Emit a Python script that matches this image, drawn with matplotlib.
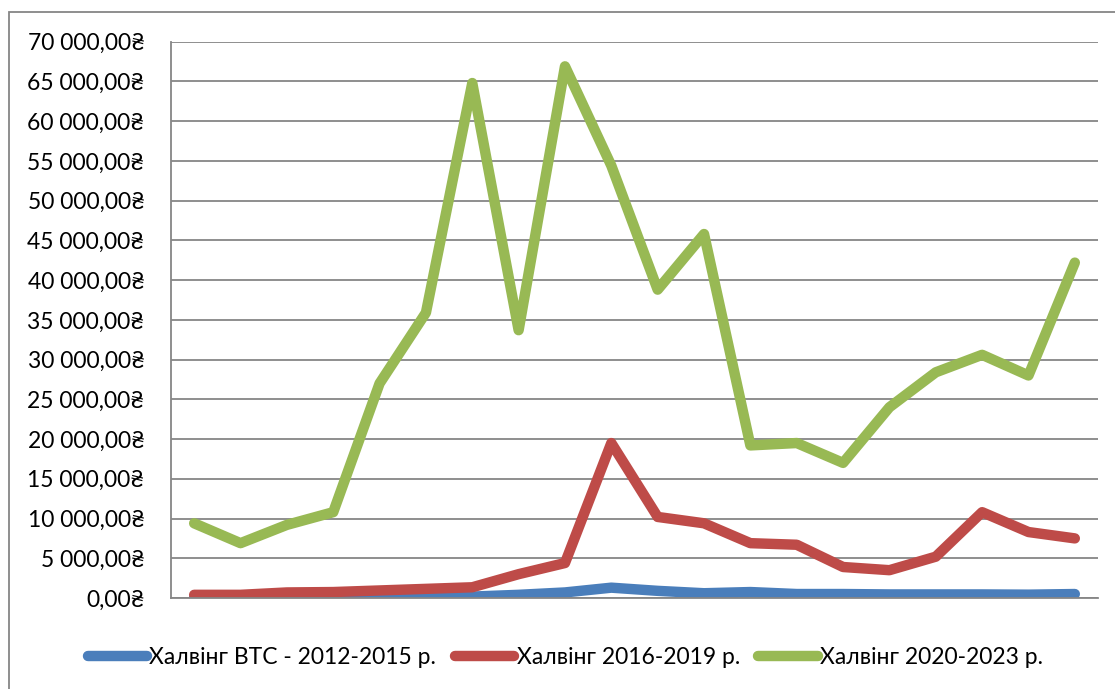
import matplotlib.pyplot as plt
from matplotlib.patches import Rectangle
from matplotlib.ticker import FuncFormatter, MultipleLocator

plt.rcParams['font.family'] = ['Lato', 'DejaVu Sans']

# monthly points of each halving cycle, UAH
periods = list(range(20))
btc_2012 = [60, 70, 80, 90, 100, 120, 180, 400, 700, 1300, 900, 600, 750, 500, 500, 450, 450, 450, 420, 500]
btc_2016 = [400, 400, 700, 750, 950, 1150, 1350, 3000, 4400, 19500, 10200, 9400, 6900, 6700, 3900, 3500, 5200, 10800, 8300, 7500]
btc_2020 = [9400, 6900, 9200, 10800, 27000, 35900, 64800, 33700, 66900, 54400, 38800, 45800, 19200, 19500, 17000, 24000, 28400, 30600, 28000, 42200]

labels = ['Халвінг BTC - 2012-2015 р.', 'Халвінг 2016-2019 р.', 'Халвінг 2020-2023 р.']
colors = ['#4A7EBB', '#BE4B48', '#98B954']

fig = plt.figure(figsize=(11.15, 6.89), dpi=100)
ax = fig.add_axes([171 / 1115, 1 - 598 / 689, (1098 - 171) / 1115, (598 - 41.7) / 689])

for vals, lab, col in zip([btc_2012, btc_2016, btc_2020], labels, colors):
    ax.plot(periods, vals, color=col, lw=7.5, label=lab,
            solid_capstyle='round', solid_joinstyle='round')

ax.set_xlim(-0.5, 19.5)
ax.set_ylim(0, 70000)
ax.yaxis.set_major_locator(MultipleLocator(5000))


def uah(v, pos):
    s = f'{v:,.2f}'.replace(',', ' ').replace('.', ',')
    return s + '₴'


ax.yaxis.set_major_formatter(FuncFormatter(uah))
ax.set_xticks([])
ax.tick_params(axis='y', length=0, pad=19, labelsize=16.5)
ax.grid(axis='y', color='#868686', lw=1.3)
ax.set_axisbelow(True)
for side in ['top', 'right']:
    ax.spines[side].set_visible(False)
for side in ['left', 'bottom']:
    ax.spines[side].set_color('#868686')
    ax.spines[side].set_linewidth(1.3)

# outer chart frame
fig.patches.append(Rectangle((9 / 1115, -0.05), 1.1, 1 - 12 / 689 + 0.05,
                             transform=fig.transFigure, fill=False,
                             edgecolor='#868686', lw=1.3))

leg = fig.legend(loc='center', bbox_to_anchor=(0.507, 1 - 658 / 689), ncol=3,
                 frameon=False, fontsize=16.5, handlelength=2.6, handletextpad=0.1,
                 columnspacing=0.8)

fig.savefig('out.png', dpi=100)
